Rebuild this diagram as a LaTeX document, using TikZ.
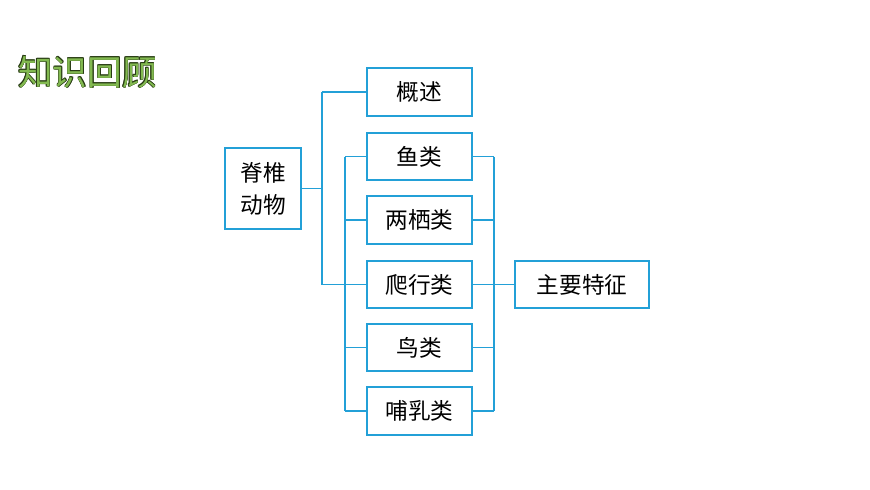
\documentclass[tikz,border=0pt]{standalone}
\usepackage{fontspec}
\newfontfamily\cjk{Noto Sans CJK SC}
\definecolor{lb}{RGB}{35,160,215}
\definecolor{tg}{RGB}{130,185,80}
\definecolor{td}{RGB}{40,60,20}
\begin{document}
\begin{tikzpicture}[x=0.75pt,y=-0.75pt,
  bx/.style={draw=lb,line width=1.3pt,fill=white,inner sep=0pt,font=\cjk\fontsize{17}{21}\selectfont},
  ln/.style={draw=lb,line width=1.3pt}]
\useasboundingbox (0,0) rectangle (870,489);
\foreach \dx/\dy in {-0.5/0,0.5/0,0/-0.5,0/0.5,0.5/0.5,-0.5/-0.5,0.5/-0.5,-0.5/0.5}
  \node[anchor=west,text=td,font=\cjk\fontsize{26}{30}\selectfont,inner sep=0pt] at (18+\dx,72+\dy) {知识回顾};
\node[anchor=west,text=tg,font=\cjk\fontsize{26}{30}\selectfont,inner sep=0pt] (t) at (18,72) {知识回顾};
\node[bx,minimum width=57pt,minimum height=61pt,align=center,font=\cjk\fontsize{17}{24}\selectfont] (jz) at (263,188.5) {脊椎\\动物};
\foreach \n/\y/\t in {gs/92/概述,yl/156.5/鱼类,lq/220/两栖类,px/284.5/爬行类,nl/347.5/鸟类,br/411/哺乳类}
  \node[bx,minimum width=79pt,minimum height=35.5pt] (\n) at (419.5,\y) {\t};
\node[bx,minimum width=100pt,minimum height=35.5pt] (zt) at (582,284.5) {主要特征};
\coordinate (a) at (322,188.5);
\draw[ln] (jz.east) -- (a) (322,92) -- (gs.west) (322,92) -- (322,284.5) -- (px.west);
\draw[ln] (345,156.5) -- (345,411);
\draw[ln] (494,156.5) -- (494,411);
\foreach \n in {yl,lq,px,nl,br}{
  \draw[ln] (\n.west) -- (345,0 |- \n.west);
  \draw[ln] (\n.east) -- (494,0 |- \n.east);}
\draw[ln] (494,284.5) -- (zt.west);
\end{tikzpicture}
\end{document}
